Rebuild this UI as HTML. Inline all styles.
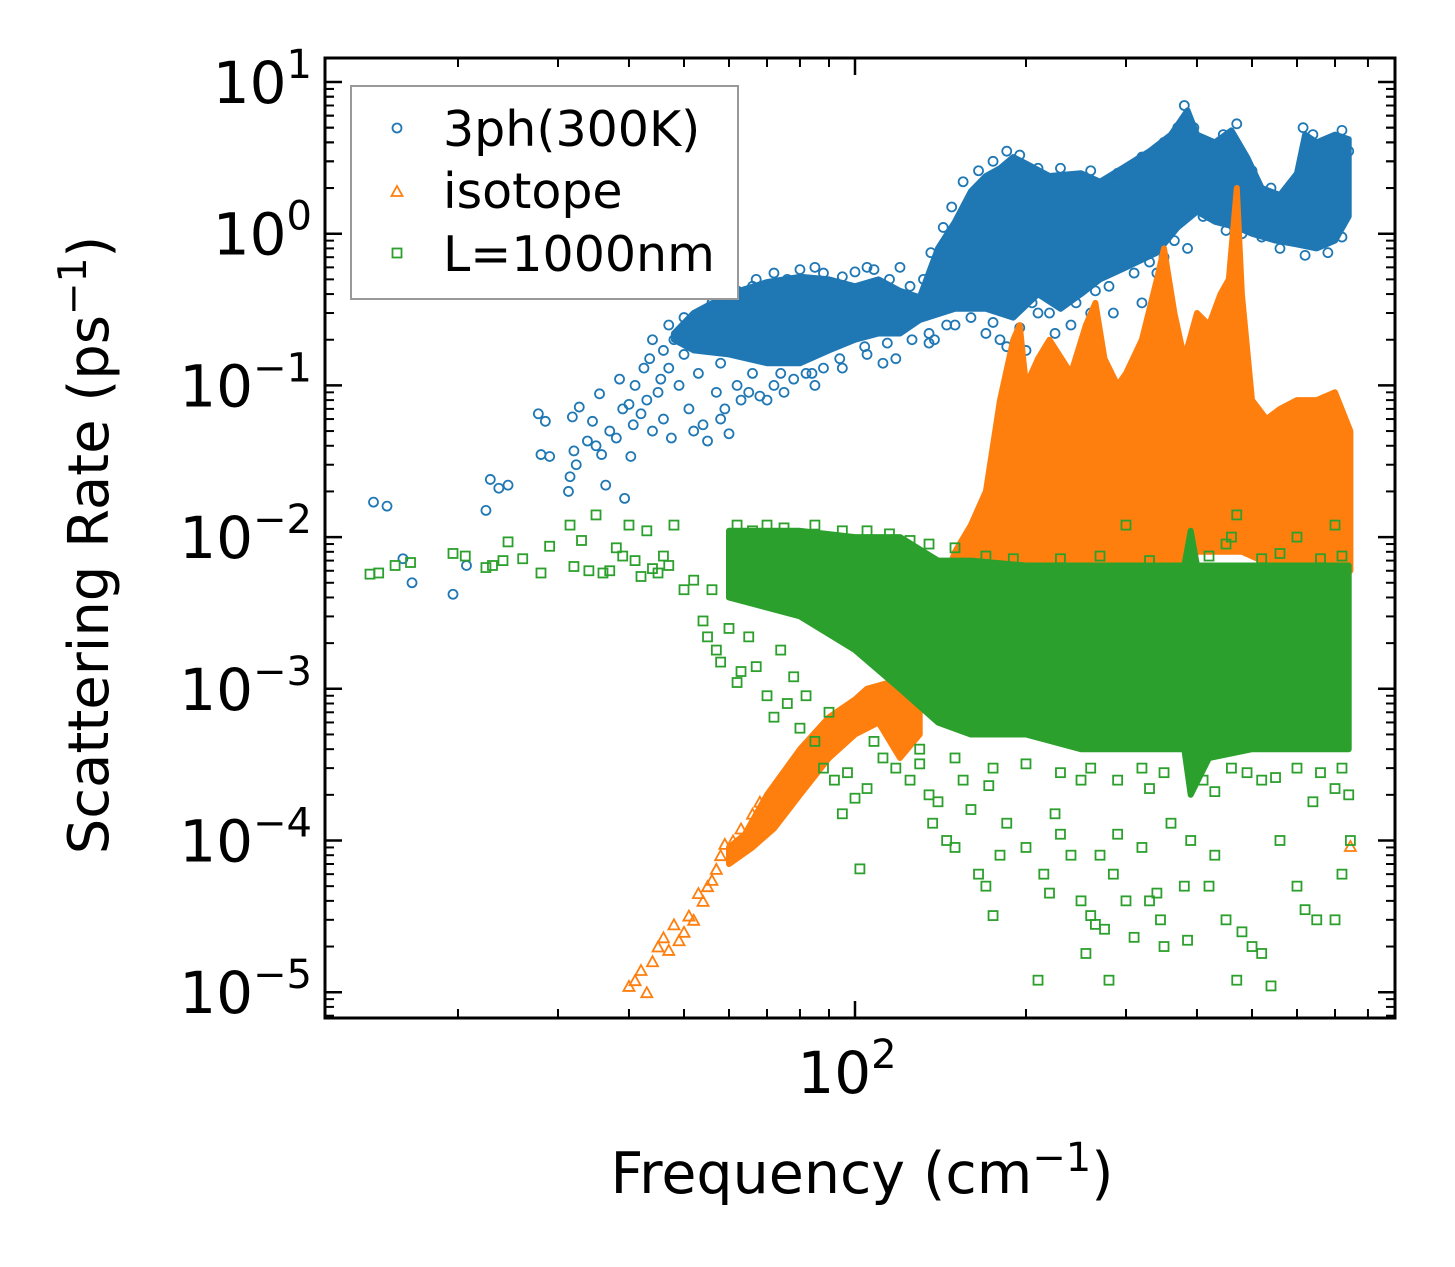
<!DOCTYPE html>
<html><head><meta charset="utf-8"><style>
html,body{margin:0;padding:0;background:#fff;}
svg{display:block;font-family:"DejaVu Sans","Liberation Sans",sans-serif;}
</style></head><body>
<svg id="chart" width="1455" height="1267" viewBox="0 0 1455 1267" xmlns="http://www.w3.org/2000/svg">
<rect x="0" y="0" width="1455" height="1267" fill="#fff"/>
<defs><clipPath id="plotclip"><rect x="325" y="58" width="1070" height="960"/></clipPath></defs>
<g id="bands" clip-path="url(#plotclip)"></g>
<g id="marks" clip-path="url(#plotclip)"></g>
<g id="axes"></g>
<text x="108" y="545" font-size="56" text-anchor="middle" transform="rotate(-90 108 545)">Scattering Rate (ps<tspan font-size="39" dy="-22">−1</tspan><tspan dy="22">)</tspan></text>
<text x="862" y="1193" font-size="57" text-anchor="middle">Frequency (cm<tspan font-size="40" dy="-22">−1</tspan><tspan dy="22">)</tspan></text>
<g>
<rect x="351" y="86" width="387" height="213" fill="#fff" stroke="#999" stroke-width="2"/>
<circle cx="397" cy="128" r="4.5" fill="none" stroke="#1f77b4" stroke-width="1.8"/>
<text x="443" y="146" font-size="49">3ph(300K)</text>
<polygon points="397,186 402.5,196 391.5,196" fill="none" stroke="#ff7f0e" stroke-width="1.8"/>
<text x="443" y="208" font-size="49">isotope</text>
<rect x="392.5" y="248.5" width="9" height="9" fill="none" stroke="#2ca02c" stroke-width="1.8"/>
<text x="443" y="271" font-size="49">L=1000nm</text>
</g>
</svg>
<script>
// ---- data ----
const blueBandTop=[[48,0.22],[52,0.3],[60,0.4],[70,0.48],[80,0.52],[90,0.5],[100,0.45],[110,0.5],[120,0.42],[130,0.38],[140,0.8],[150,1.2],[160,1.9],[170,2.4],[180,2.7],[190,3.2],[200,2.9],[220,2.4],[250,2.5],[270,2.2],[300,2.8],[330,3.5],[360,4.5],[385,6.5],[400,4.5],[430,4.0],[460,4.8],[490,3.2],[520,2.0],[560,1.8],[600,2.5],[620,4.5],[650,4.0],[700,4.5],[740,4.2]];
const blueBandBottom=[[740,1.3],[700,0.9],[650,0.8],[600,0.85],[550,0.9],[500,1.0],[470,1.1],[430,1.2],[400,1.4],[370,1.1],[340,0.75],[300,0.6],[270,0.5],[250,0.4],[230,0.32],[210,0.4],[190,0.28],[170,0.32],[150,0.32],[130,0.27],[120,0.22],[110,0.22],[100,0.2],[90,0.17],[80,0.14],[70,0.14],[60,0.16],[52,0.17],[48,0.2]];
const bluePoints=[[14.2,0.017],[15,0.016],[16,0.0072],[16.6,0.005],[19.6,0.0042],[20.7,0.0065],[22.4,0.015],[22.8,0.024],[23.6,0.021],[24.5,0.022],[27.7,0.065],[28,0.035],[28.5,0.058],[29,0.034],[31.3,0.02],[31.5,0.025],[31.8,0.062],[32,0.037],[32.3,0.03],[32.7,0.072],[33.8,0.043],[34.5,0.058],[35,0.04],[35.5,0.088],[35.8,0.035],[36.4,0.022],[37,0.05],[38,0.045],[38.5,0.11],[39,0.07],[39.3,0.018],[40,0.075],[40.3,0.034],[40.7,0.055],[41,0.1],[42,0.065],[42.5,0.13],[43,0.08],[43.5,0.15],[44,0.05],[45,0.09],[45.5,0.11],[46,0.06],[47,0.13],[47.5,0.045],[48,0.2],[49,0.1],[50,0.16],[51,0.07],[52,0.05],[52.5,0.27],[53,0.12],[54,0.055],[55,0.043],[55.5,0.3],[57,0.09],[58,0.06],[59,0.07],[60,0.048],[61,0.35],[62,0.1],[63,0.08],[65,0.09],[66,0.45],[68,0.085],[70,0.08],[72,0.1],[75,0.09],[78,0.11],[82,0.12],[85,0.1],[88,0.13],[95,0.13],[105,0.16],[112,0.14],[118,0.15],[135,0.19],[138,0.2],[150,0.25],[170,0.22],[180,0.2],[185,0.18],[210,0.3],[225,0.22],[240,0.25],[260,0.3],[285,0.3],[320,0.35],[340,0.55],[355,0.4],[385,0.8],[200,0.17],[105,0.6],[120,0.6],[155,1.2],
[44,0.2],[46,0.17],[47,0.25],[50,0.28],[54,0.2],[56,0.35],[58,0.3],[62,0.42],[64,0.3],[67,0.5],[72,0.55],[76,0.5],[80,0.58],[85,0.6],[88,0.55],[95,0.52],[100,0.56],[108,0.58],[115,0.5],[125,0.45],[132,0.5],[136,0.75],[143,1.1],[148,1.5],[155,2.2],[165,2.6],[175,3.0],[185,3.5],[195,3.3],[210,2.7],[230,2.7],[260,2.6],[290,2.5],[320,3.2],[350,4.0],[370,5.0],[380,7.0],[395,5.0],[420,3.8],[445,4.5],[470,5.3],[500,2.6],[540,2.0],[580,1.9],[615,5.0],[640,4.5],[680,4.0],[720,4.8],[740,3.5],
[58,0.14],[66,0.12],[74,0.12],[84,0.12],[94,0.15],[104,0.18],[114,0.19],[126,0.2],[135,0.22],[145,0.25],[160,0.28],[175,0.26],[195,0.24],[205,0.35],[220,0.3],[245,0.35],[265,0.42],[280,0.45],[310,0.55],[330,0.65],[350,0.7],[365,0.9],[410,1.3],[450,1.05],[480,1.0],[520,0.95],[560,0.8],[620,0.72],[680,0.75],[720,0.95]];
const orangeBandTop=[[140,0.004],[150,0.008],[160,0.012],[170,0.02],[180,0.08],[190,0.2],[195,0.25],[200,0.1],[210,0.15],[220,0.2],[240,0.12],[255,0.25],[265,0.35],[275,0.15],[290,0.1],[300,0.12],[320,0.2],[340,0.5],[350,0.8],[365,0.3],[380,0.15],[400,0.3],[420,0.25],[440,0.4],[455,0.5],[470,2.0],[480,0.4],[500,0.08],[530,0.06],[560,0.07],[600,0.08],[650,0.08],[700,0.09],[745,0.05]];
const orangeBandBottom=[[745,0.006],[700,0.005],[650,0.006],[600,0.006],[560,0.006],[520,0.007],[480,0.008],[450,0.008],[420,0.008],[400,0.008],[380,0.006],[350,0.006],[320,0.005],[290,0.005],[260,0.004],[230,0.004],[200,0.003],[180,0.003],[160,0.002],[140,0.002]];
const orangeLowTop=[[60,9e-5],[64,1.1e-4],[70,2e-4],[80,4e-4],[90,6.5e-4],[100,8.5e-4],[105,1.0e-3],[115,1.1e-3],[125,9e-4],[130,1.2e-3]];
const orangeLowBottom=[[130,5e-4],[120,3.5e-4],[110,6e-4],[100,5e-4],[90,3.5e-4],[80,2e-4],[72,1.2e-4],[66,9e-5],[60,7e-5]];
const orangePoints=[[40,1.1e-5],[41,1.2e-5],[42,1.4e-5],[43,1e-5],[44,1.6e-5],[45,2e-5],[46,2.3e-5],[47,1.9e-5],[48,2.8e-5],[49,2.2e-5],[50,2.5e-5],[51,3.2e-5],[52,3e-5],[53,4.5e-5],[54,4e-5],[55,5e-5],[56,5.5e-5],[57,6.5e-5],[58,8e-5],[59,9.5e-5],[61,1e-4],[63,1.2e-4],[66,1.5e-4],[68,1.8e-4],[745,9.2e-5]];
const greenBandTop=[[60,0.011],[80,0.011],[100,0.01],[120,0.01],[140,0.007],[160,0.007],[200,0.0065],[300,0.0065],[380,0.0065],[390,0.011],[400,0.0065],[500,0.0065],[600,0.0065],[740,0.0065]];
const greenBandBottom=[[740,4e-4],[600,4e-4],[500,4e-4],[420,3.5e-4],[390,2e-4],[380,4e-4],[300,4e-4],[250,4e-4],[200,5e-4],[160,5e-4],[140,6e-4],[120,1e-3],[100,1.8e-3],[80,3e-3],[60,4e-3]];
const greenPoints=[[14,0.0057],[14.5,0.0058],[15.5,0.0065],[16.5,0.0068],[19.6,0.0078],[20.6,0.0075],[22.4,0.0063],[23,0.0065],[24,0.007],[24.5,0.0093],[26,0.0072],[28,0.0058],[29,0.0087],[31.5,0.012],[32,0.0064],[33,0.0095],[34,0.006],[35,0.014],[36,0.0058],[37,0.006],[38,0.0085],[39,0.0075],[40,0.012],[41,0.007],[42,0.0055],[43,0.011],[44,0.0062],[45,0.0058],[46,0.0075],[47,0.0065],[48,0.012],[50,0.0045],[52,0.0052],[54,0.0028],[55,0.0022],[56,0.0045],[57,0.0018],[58,0.0015],[60,0.0025],[62,0.0011],[63,0.0013],[65,0.0022],[67,0.0014],[70,0.0009],[72,0.00065],[74,0.0018],[76,0.0008],[78,0.0012],[80,0.00055],[82,0.0009],[85,0.00045],[88,0.0003],[90,0.0007],[92,0.00025],[95,0.00015],[97,0.00028],[100,0.00019],[102,0.000065],[105,0.00022],[108,0.00045],[112,0.00035],[118,0.0003],[125,0.00025],[130,0.00032],[135,0.0002],[137,0.00013],[140,0.00018],[145,0.0001],[150,0.00009],[155,0.00025],[160,0.00016],[165,0.00006],[170,0.00005],[172,0.00023],[175,0.000032],[180,0.00008],[185,0.00013],[200,0.00009],[210,0.000012],[215,0.00006],[220,0.000045],[225,0.00015],[230,0.00011],[240,0.00008],[250,0.00004],[255,0.000018],[260,0.000032],[265,0.000028],[270,0.00008],[275,0.000026],[280,0.000012],[285,0.00006],[290,0.00011],[300,0.00004],[310,0.000023],[320,0.00009],[330,0.00004],[340,0.000045],[345,0.00003],[350,0.00002],[360,0.00013],[380,0.00005],[385,0.000022],[390,0.0001],[420,0.00005],[430,0.00008],[450,0.00003],[470,0.000012],[480,0.000025],[500,0.00002],[520,0.000018],[540,0.000011],[560,0.0001],[600,0.00005],[620,0.000035],[650,0.00003],[700,0.00003],[720,0.00006],[740,0.0002],[745,0.0001],[300,0.012],[600,0.01],[700,0.012],[460,0.01],[470,0.014],[450,0.009],[250,0.00025],[330,0.00022],[430,0.00021],[520,0.00025],[640,0.00018],[700,0.00022],
[62,0.012],[66,0.011],[70,0.012],[75,0.0115],[85,0.012],[95,0.011],[105,0.011],[115,0.0105],[125,0.0095],[135,0.009],[150,0.0085],[170,0.0075],[190,0.0072],[230,0.0072],[270,0.0075],[330,0.007],[420,0.0075],[520,0.0072],[560,0.0078],[660,0.0072],[720,0.0075],
[130,0.0004],[150,0.00035],[175,0.0003],[200,0.00032],[230,0.00028],[260,0.0003],[290,0.00025],[320,0.0003],[350,0.00028],[410,0.00025],[460,0.0003],[490,0.00028],[550,0.00026],[600,0.0003],[660,0.00028],[720,0.0003]];
const xMajorTicks=[100];
const xMinorTicks=[20,30,40,50,60,70,80,90,200,300,400,500,600,700,800];
const yMajorExps=[1,0,-1,-2,-3,-4,-5];
const xLabelExp=[2];

// ---- axis functions ----
function xs(f){return 855+568*(Math.log10(f)-2);}
function ys(r){return 233.7-151.7*Math.log10(r);}
const NS='http://www.w3.org/2000/svg';
function mk(tag,attrs,parent){const e=document.createElementNS(NS,tag);for(const k in attrs)e.setAttribute(k,attrs[k]);parent.appendChild(e);return e;}
const bands=document.getElementById('bands'),marks=document.getElementById('marks'),axes=document.getElementById('axes');

function band(top,bottom,color,name){
  const pts=top.concat(bottom).map(p=>xs(p[0]).toFixed(1)+','+ys(p[1]).toFixed(1)).join(' ');
  const el=mk('polygon',{points:pts,fill:color,stroke:color,'stroke-width':6,'stroke-linejoin':'round'},bands);
  
  
}
band(blueBandTop,blueBandBottom,'#1f77b4','3ph-dense-band');
bluePoints.forEach(p=>{
  const el=mk('circle',{cx:xs(p[0]),cy:ys(p[1]),r:4.5,fill:'none',stroke:'#1f77b4','stroke-width':1.8},bands);
  
  
});
band(orangeBandTop,orangeBandBottom,'#ff7f0e','isotope-dense-band');
band(orangeLowTop,orangeLowBottom,'#ff7f0e','isotope-low-band');
orangePoints.forEach(p=>{
  const x=xs(p[0]),y=ys(p[1]);
  const el=mk('polygon',{points:`${x},${y-5} ${x+5.5},${y+5} ${x-5.5},${y+5}`,fill:'none',stroke:'#ff7f0e','stroke-width':1.8},bands);
  
  
});
band(greenBandTop,greenBandBottom,'#2ca02c','boundary-dense-band');
greenPoints.forEach(p=>{
  const el=mk('rect',{x:xs(p[0])-4.5,y:ys(p[1])-4.5,width:9,height:9,fill:'none',stroke:'#2ca02c','stroke-width':1.8},bands);
  
  
});

// ---- axes ----
const L=325,R=1395,T=58,B=1018;
const frame=mk('rect',{x:L,y:T,width:R-L,height:B-T,fill:'none',stroke:'#000','stroke-width':3},axes);


function tick(x1,y1,x2,y2,w){mk('line',{x1,y1,x2,y2,stroke:'#000','stroke-width':w},axes);}
xMajorTicks.forEach(f=>{const x=xs(f);tick(x,B,x,B-17,2.5);tick(x,T,x,T+17,2.5);});
xMinorTicks.forEach(f=>{const x=xs(f);tick(x,B,x,B-9,2);tick(x,T,x,T+9,2);});
yMajorExps.forEach(e=>{
  const y=ys(Math.pow(10,e));
  tick(L,y,L+17,y,2.5);tick(R,y,R-17,y,2.5);
  for(let m=2;m<=9;m++){const yy=ys(m*Math.pow(10,e-1));if(yy<B&&yy>T){tick(L,yy,L+9,yy,2);tick(R,yy,R-9,yy,2);}}
  const t=mk('text',{x:312,y:y+21,'font-size':58,'text-anchor':'end'},axes);
  
  
  const base=document.createElementNS(NS,'tspan');base.textContent='10';t.appendChild(base);
  const sup=document.createElementNS(NS,'tspan');sup.setAttribute('font-size','40');sup.setAttribute('dy','-25');
  sup.textContent=(e<0?'−':'')+Math.abs(e);t.appendChild(sup);
});
for(let m=2;m<=9;m++){const yy=ys(m);if(yy>T){tick(L,yy,L+9,yy,2);tick(R,yy,R-9,yy,2);}}
xLabelExp.forEach(e=>{
  const t=mk('text',{x:xs(Math.pow(10,e))-8,y:1093,'font-size':58,'text-anchor':'middle'},axes);
  
  
  const base=document.createElementNS(NS,'tspan');base.textContent='10';t.appendChild(base);
  const sup=document.createElementNS(NS,'tspan');sup.setAttribute('font-size','40');sup.setAttribute('dy','-25');
  sup.textContent=String(e);t.appendChild(sup);
});
</script>
</body></html>
